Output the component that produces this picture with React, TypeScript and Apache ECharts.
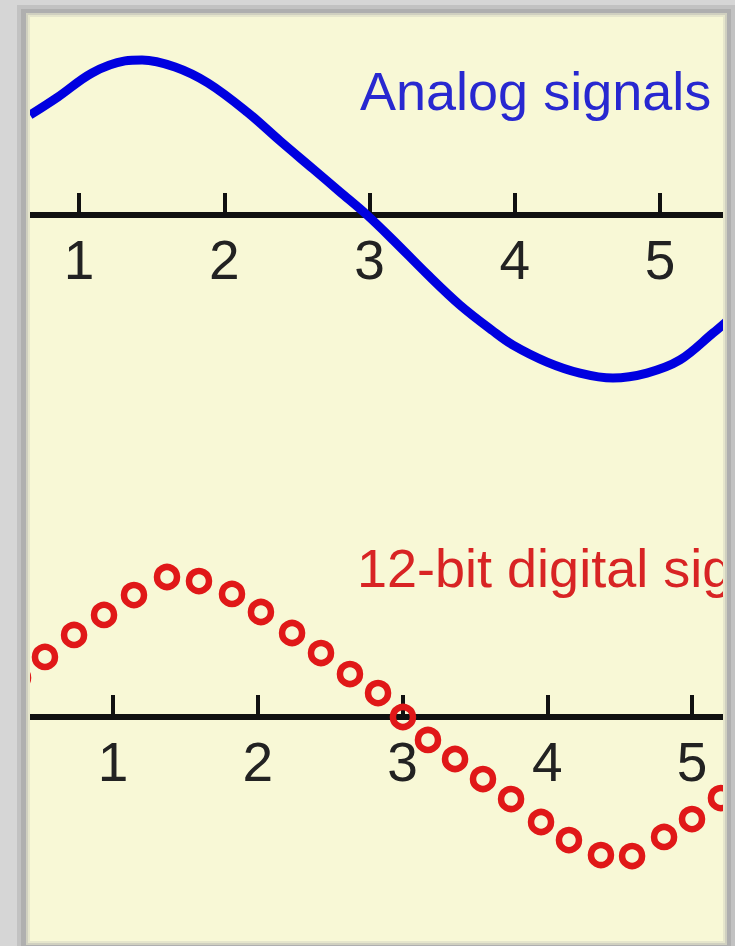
import React, { useEffect, useRef } from "react";
import * as echarts from "echarts";

// Axis tick labels (both panels)
const tickValues = [1, 2, 3, 4, 5];

// Analog signal: [x (axis units), amplitude]
const analogX = [0.663, 0.855, 1.09, 1.317, 1.434, 1.661, 1.888, 2.157, 2.384, 2.611, 2.797, 2.983, 3.162, 3.396, 3.623, 3.85, 3.988, 4.222, 4.449, 4.676, 4.91, 5.138, 5.365, 5.454];
const analogY = [0.625, 0.738, 0.888, 0.963, 0.969, 0.925, 0.825, 0.644, 0.463, 0.288, 0.144, 0, -0.156, -0.369, -0.563, -0.725, -0.813, -0.919, -0.988, -1.019, -0.988, -0.906, -0.738, -0.669];

// 12-bit digital samples: [x (axis units), amplitude]
const digitalX = [0.344, 0.53, 0.731, 0.938, 1.145, 1.373, 1.594, 1.822, 2.022, 2.237, 2.437, 2.637, 2.831, 3.003, 3.176, 3.363, 3.556, 3.75, 3.957, 4.15, 4.371, 4.586, 4.807, 5.0, 5.2];
const digitalY = [0.28, 0.429, 0.586, 0.729, 0.871, 1.0, 0.971, 0.879, 0.75, 0.6, 0.457, 0.307, 0.171, 0.0, -0.164, -0.3, -0.443, -0.586, -0.75, -0.879, -0.986, -0.993, -0.857, -0.729, -0.579];

const analogLabel = "Analog signals";
const digitalLabel = "12-bit digital signals";

const FONT = '"Liberation Sans", Arial, Helvetica, sans-serif';
const PANEL = { x1: 30, y1: 17, x2: 723, y2: 941 };

function ring(x1: number, y1: number, x2: number, y2: number, fill: string, z: number) {
  const p = PANEL;
  const out: any[] = [];
  const add = (x: number, y: number, w: number, h: number) => {
    if (w > 0 && h > 0) out.push({ type: "rect", z, silent: true, shape: { x, y, width: w, height: h }, style: { fill } });
  };
  add(x1, y1, x2 - x1, p.y1 - y1);
  add(x1, p.y2, x2 - x1, y2 - p.y2);
  add(x1, p.y1, p.x1 - x1, p.y2 - p.y1);
  add(p.x2, p.y1, x2 - p.x2, p.y2 - p.y1);
  return out;
}

function xAxisFor(gridIndex: number, min: number, max: number) {
  return {
    type: "value",
    gridIndex,
    min,
    max,
    axisLine: { onZero: false, lineStyle: { color: "#111111", width: 6 } },
    axisTick: { show: true, inside: true, length: 22, customValues: tickValues, lineStyle: { color: "#111111", width: 4 } },
    axisLabel: {
      show: true,
      margin: 17,
      fontSize: 55,
      fontFamily: FONT,
      color: "#222222",
      customValues: tickValues,
    },
    splitLine: { show: false },
  };
}

export default function App() {
  const ref = useRef<HTMLDivElement>(null);
  useEffect(() => {
    document.body.style.margin = "0";
    if (!ref.current) return;
    const chart = echarts.init(ref.current, null, { renderer: "svg" });
    const frame = [
      ...ring(0, 0, 735, 946, "#d6d6d6", 100),
      ...ring(17, 5, 735, 946, "#c2c2c2", 101),
      ...ring(21, 9, 731, 946, "#afafaf", 102),
      ...ring(26, 13, 727, 945, "#d0d0c0", 103),
      ...ring(28, 15, 725, 943, "#e6e6cc", 104),
    ];
    chart.setOption({
      animation: false,
      backgroundColor: "#f8f8d6",
      grid: [
        { left: 30, width: 694, top: 23, height: 192, outerBoundsMode: "none", containLabel: false },
        { left: 30, width: 694, top: 535, height: 182, outerBoundsMode: "none", containLabel: false },
      ],
      xAxis: [xAxisFor(0, 1 - 49 / 145.25, 1 + 645 / 145.25), xAxisFor(1, 1 - 83 / 144.75, 1 + 611 / 144.75)],
      yAxis: [
        { type: "value", gridIndex: 0, min: 0, max: 1.2, show: false, splitLine: { show: false } },
        { type: "value", gridIndex: 1, min: 0, max: 1.3, show: false, splitLine: { show: false } },
      ],
      series: [
        {
          type: "line",
          xAxisIndex: 0,
          yAxisIndex: 0,
          data: analogX.map((x, i) => [x, analogY[i]]),
          smooth: 0.35,
          showSymbol: false,
          clip: false,
          lineStyle: { color: "#0000e0", width: 9 },
          z: 3,
        },
        {
          type: "scatter",
          xAxisIndex: 1,
          yAxisIndex: 1,
          data: digitalX.map((x, i) => [x, digitalY[i]]),
          symbol: "circle",
          symbolSize: 20,
          clip: false,
          itemStyle: { color: "rgba(0,0,0,0)", borderColor: "#e01818", borderWidth: 6.5, opacity: 1 },
          z: 3,
        },
      ],
      graphic: [
        {
          type: "text",
          z: 10,
          x: 360,
          y: 91,
          style: { text: analogLabel, fill: "#2828d0", font: `54px ${FONT}`, align: "left", verticalAlign: "middle" },
        },
        {
          type: "text",
          z: 10,
          x: 357,
          y: 568,
          style: { text: digitalLabel, fill: "#d82424", font: `54px ${FONT}`, align: "left", verticalAlign: "middle" },
        },
        ...frame,
      ],
    });
    return () => chart.dispose();
  }, []);
  return <div ref={ref} style={{ position: "absolute", left: 0, top: 0, width: 735, height: 946 }} />;
}
